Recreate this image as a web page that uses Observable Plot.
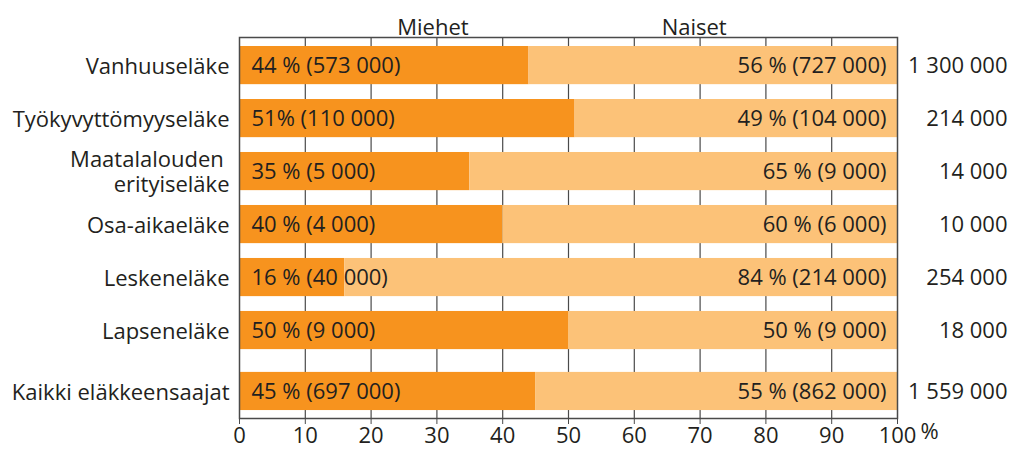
<!DOCTYPE html>
<html>
<head>
<meta charset="utf-8">
<script src="https://cdn.jsdelivr.net/npm/d3@7"></script>
<script src="https://cdn.jsdelivr.net/npm/@observablehq/plot@0.6"></script>
<style>
  html, body { margin: 0; padding: 0; background: #fff; }
  #chart svg { display: block; }
</style>
</head>
<body>
<div id="chart"></div>
<script>
const categories = [
  "Vanhuuseläke",
  "Työkyvyttömyyseläke",
  "Maatalalouden\u00a0\nerityiseläke",
  "Osa-aikaeläke",
  "Leskeneläke",
  "Lapseneläke",
  "Kaikki eläkkeensaajat"
];
const menPct   = [44, 51, 35, 40, 16, 50, 45];
const womenPct = [56, 49, 65, 60, 84, 50, 55];
const menLabels = ["44 % (573 000)", "51% (110 000)", "35 % (5 000)", "40 % (4 000)", "16 % (40 000)", "50 % (9 000)", "45 % (697 000)"];
const womenLabels = ["56 % (727 000)", "49 % (104 000)", "65 % (9 000)", "60 % (6 000)", "84 % (214 000)", "50 % (9 000)", "55 % (862 000)"];
const totals = ["1 300 000", "214 000", "14 000", "10 000", "254 000", "18 000", "1 559 000"];
const xTicks = [0, 10, 20, 30, 40, 50, 60, 70, 80, 90, 100];
const headers = ["Miehet", "Naiset"];

const DARK = "#F7931E";
const LIGHT = "#FCC278";
const INK = "#231F20";
const FONT = "'Open Sans', sans-serif";
const FS = 22;

// row position: the summary row is set slightly apart
const rows = categories.map((c, i) => ({
  cat: c,
  yc: i + (i === categories.length - 1 ? 0.15 : 0),
  men: menPct[i],
  women: womenPct[i],
  menLabel: menLabels[i],
  womenLabel: womenLabels[i],
  total: totals[i]
}));
const half = 0.36;

const chart = Plot.plot({
  width: 1014,
  height: 451,
  marginLeft: 239,
  marginRight: 117,
  marginTop: 37,
  marginBottom: 33,
  style: { fontFamily: FONT, fontSize: FS + "px", color: INK, background: "#fff" },
  x: { domain: [0, 100], axis: null },
  y: { domain: [-0.53, 6.66], reverse: true, axis: null },
  marks: [
    Plot.ruleX(xTicks.slice(1, -1), { stroke: "#4a4a4a", strokeWidth: 1.2 }),
    Plot.rect(rows, { x1: 0, x2: "men", y1: d => d.yc - half, y2: d => d.yc + half, fill: DARK }),
    Plot.rect(rows, { x1: "men", x2: d => d.men + d.women, y1: d => d.yc - half, y2: d => d.yc + half, fill: LIGHT }),
    Plot.frame({ stroke: "#4a4a4a", strokeWidth: 1.5 }),
    Plot.text(rows, { x: 0, y: "yc", text: "menLabel", textAnchor: "start", dx: 12, fill: INK, fontSize: FS }),
    Plot.text(rows, { x: 100, y: "yc", text: "womenLabel", textAnchor: "end", dx: -11, fill: INK, fontSize: FS }),
    Plot.text(rows, { x: 100, y: "yc", text: "total", textAnchor: "end", dx: 110, fill: INK, fontSize: FS }),
    Plot.text(rows, { x: 0, y: "yc", text: "cat", textAnchor: "end", dx: -10, lineHeight: 1.14, fill: INK, fontSize: FS }),
    Plot.axisX(xTicks, { anchor: "bottom", tickSize: 6, tickPadding: 3, fontSize: FS, fill: INK, stroke: "#4a4a4a", label: null }),
    Plot.text(["%"], { x: () => 100, frameAnchor: "bottom", dy: 20, dx: 32, fill: INK, fontSize: FS }),
    Plot.text(headers, { x: (d, i) => [29.4, 69.1][i], frameAnchor: "top", dy: -18, fill: INK, fontSize: FS })
  ]
});
document.getElementById("chart").appendChild(chart);
</script>
</body>
</html>
